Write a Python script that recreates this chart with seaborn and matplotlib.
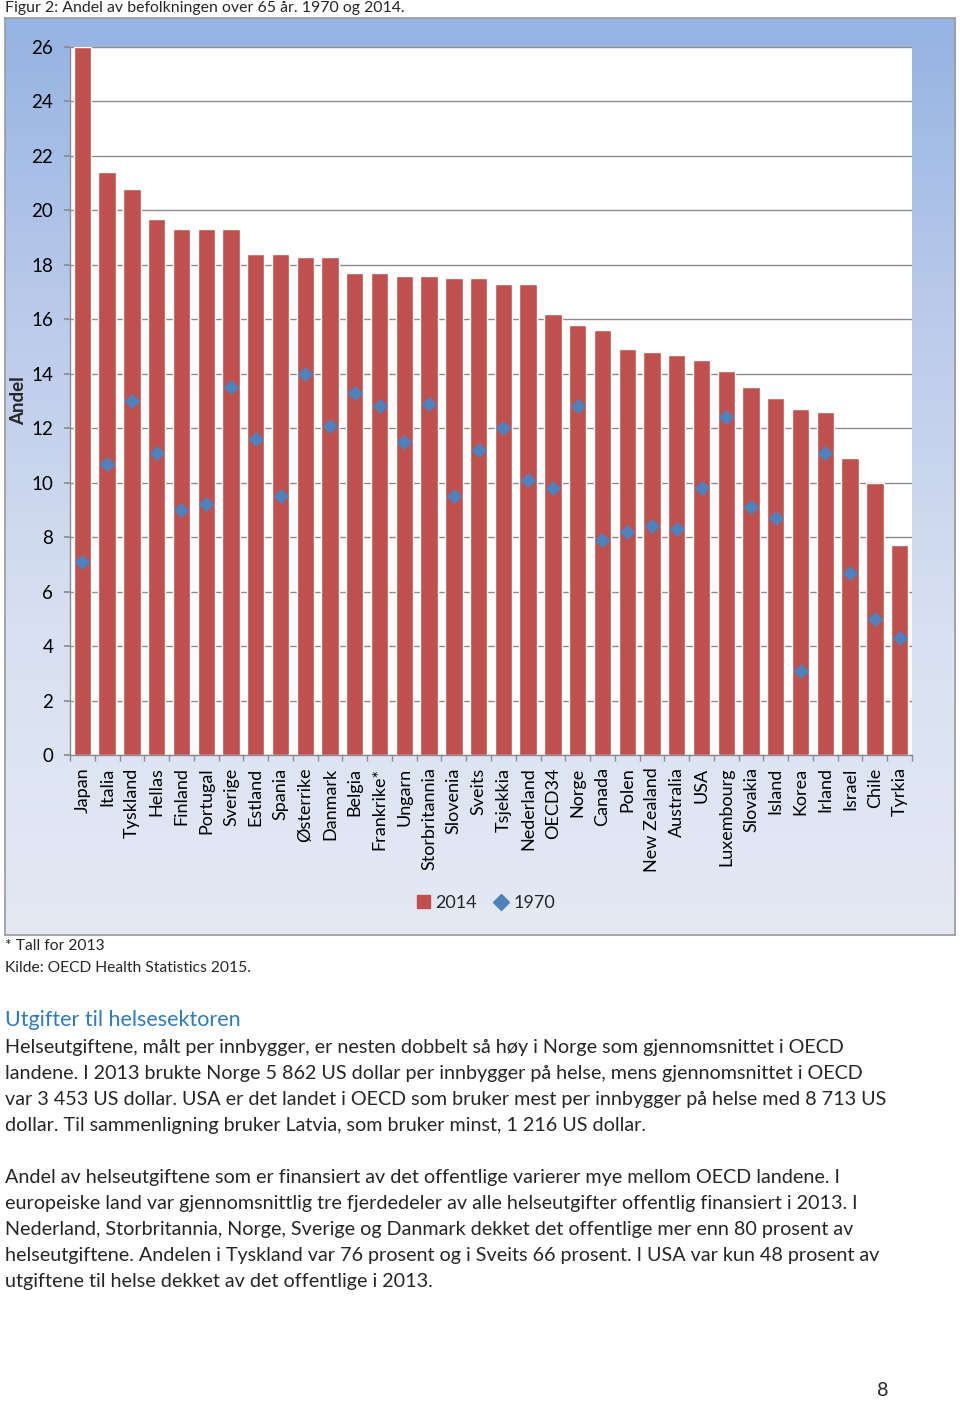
import numpy as np
import matplotlib
matplotlib.use("Agg")
import matplotlib.pyplot as plt
import seaborn as sns
from matplotlib.colors import LinearSegmentedColormap
from matplotlib.lines import Line2D
from matplotlib.patches import Patch

# data
countries = ["Japan", "Italia", "Tyskland", "Hellas", "Finland", "Portugal", "Sverige",
             "Estland", "Spania", "Østerrike", "Danmark", "Belgia", "Frankrike*", "Ungarn",
             "Storbritannia", "Slovenia", "Sveits", "Tsjekkia", "Nederland", "OECD34",
             "Norge", "Canada", "Polen", "New Zealand", "Australia", "USA", "Luxembourg",
             "Slovakia", "Island", "Korea", "Irland", "Israel", "Chile", "Tyrkia"]
share_2014 = [26.0, 21.4, 20.8, 19.7, 19.3, 19.3, 19.3, 18.4, 18.4, 18.3, 18.3, 17.7, 17.7,
              17.6, 17.6, 17.5, 17.5, 17.3, 17.3, 16.2, 15.8, 15.6, 14.9, 14.8, 14.7, 14.5,
              14.1, 13.5, 13.1, 12.7, 12.6, 10.9, 10.0, 7.7]
share_1970 = [7.1, 10.7, 13.0, 11.1, 9.0, 9.2, 13.5, 11.6, 9.5, 14.0, 12.1, 13.3, 12.8,
              11.5, 12.9, 9.5, 11.2, 12.0, 10.1, 9.8, 12.8, 7.9, 8.2, 8.4, 8.3, 9.8,
              12.4, 9.1, 8.7, 3.1, 11.1, 6.7, 5.0, 4.3]
yticks = list(range(0, 27, 2))

title_text = "Figur 2: Andel av befolkningen over 65 år. 1970 og 2014."
notes = ["* Tall for 2013", "Kilde: OECD Health Statistics 2015."]
heading = "Utgifter til helsesektoren"
para1 = ["Helseutgiftene, målt per innbygger, er nesten dobbelt så høy i Norge som gjennomsnittet i OECD",
         "landene. I 2013 brukte Norge 5 862 US dollar per innbygger på helse, mens gjennomsnittet i OECD",
         "var 3 453 US dollar. USA er det landet i OECD som bruker mest per innbygger på helse med 8 713 US",
         "dollar. Til sammenligning bruker Latvia, som bruker minst, 1 216 US dollar."]
para2 = ["Andel av helseutgiftene som er finansiert av det offentlige varierer mye mellom OECD landene. I",
         "europeiske land var gjennomsnittlig tre fjerdedeler av alle helseutgifter offentlig finansiert i 2013. I",
         "Nederland, Storbritannia, Norge, Sverige og Danmark dekket det offentlige mer enn 80 prosent av",
         "helseutgiftene. Andelen i Tyskland var 76 prosent og i Sveits 66 prosent. I USA var kun 48 prosent av",
         "utgiftene til helse dekket av det offentlige i 2013."]

sns.set_theme(style="white")
plt.rcParams['font.family'] = ['Lato', 'DejaVu Sans']

W, H = 960, 1401
fig = plt.figure(figsize=(W / 100, H / 100), dpi=100)


def box(x0, y0, x1, y1):
    # pixel box (top-left origin) -> figure fraction rect
    return [x0 / W, 1 - y1 / H, (x1 - x0) / W, (y1 - y0) / H]


def fy(y):
    return 1 - y / H


# gradient chart background
bg = fig.add_axes(box(5, 18, 955, 935))
grad = np.linspace(0, 1, 256).reshape(-1, 1)
cmap = LinearSegmentedColormap.from_list("bg", ["#95b3e3", "#bccbeb", "#d8e0f1", "#e4e9f4"])
bg.imshow(grad, aspect="auto", cmap=cmap, extent=[0, 1, 0, 1])
bg.set_xticks([])
bg.set_yticks([])
for s in bg.spines.values():
    s.set_color("#9a9a9a")
    s.set_linewidth(1.2)

# plot area
ax = fig.add_axes(box(70, 47, 912, 755))
ax.set_facecolor("white")
n = len(countries)
sns.barplot(x=countries, y=share_2014, color="#C0504D", saturation=1, width=0.7, ax=ax)
ax.scatter(np.arange(n), share_1970, marker="D", s=62, color="#4F81BD", zorder=3, linewidths=0)
ax.set_xlim(-0.5, n - 0.5)
ax.set_ylim(0, 26)
ax.set_yticks(yticks)
ax.yaxis.grid(True, color="#8c8c8c", lw=1)
ax.set_axisbelow(True)
for side in ["top", "right"]:
    ax.spines[side].set_visible(False)
for side in ["left", "bottom"]:
    ax.spines[side].set_color("#8c8c8c")
    ax.spines[side].set_linewidth(1)
ax.set_xticks(np.arange(n))
ax.set_xticklabels(countries, rotation=90, fontsize=13, color="black")
ax.set_xticks(np.arange(-0.5, n), minor=True)
ax.tick_params(axis="x", which="major", length=0, pad=9)
ax.tick_params(axis="x", which="minor", length=4, color="#8c8c8c", direction="out", bottom=True)
ax.tick_params(axis="y", length=4, color="#8c8c8c", direction="out", left=True, pad=8,
               labelsize=13.5, labelcolor="black")
ax.set_xlabel("")
ax.set_ylabel("")

fig.text(19 / W, fy(401), "Andel", rotation=90, fontsize=13.5, weight="bold",
         ha="center", va="center")

handles = [Patch(color="#C0504D"),
           Line2D([], [], marker="D", color="#4F81BD", linestyle="none", markersize=8)]
fig.legend(handles, ["2014", "1970"], loc="center", bbox_to_anchor=(486 / W, fy(903)),
           ncol=2, frameon=False, fontsize=13, handlelength=0.7, handleheight=0.7,
           handletextpad=0.3, columnspacing=1.0)

# page text, font size fitted to measured line widths
renderer = fig.canvas.get_renderer()


def fitted_size(s, width, **kw):
    t = fig.text(0, 0, s, fontsize=10, **kw)
    w = t.get_window_extent(renderer).width
    t.remove()
    return 10 * width / w


fs_title = fitted_size(title_text, 400)
fig.text(5 / W, fy(8), title_text, fontsize=fs_title, va="center")

fs_note = fitted_size(notes[1], 245)
for y, s in zip([946, 968], notes):
    fig.text(5 / W, fy(y), s, fontsize=fs_note, va="center")

fs_head = fitted_size(heading, 236)
fig.text(5 / W, fy(1020), heading, fontsize=fs_head, va="center", color="#2E7BC0")

fs_body = fitted_size(para1[0], 841)
for y, s in zip([1047, 1073, 1099, 1125], para1):
    fig.text(5 / W, fy(y), s, fontsize=fs_body, va="center")
for y, s in zip([1178, 1204, 1230, 1256, 1282], para2):
    fig.text(5 / W, fy(y), s, fontsize=fs_body, va="center")

fig.text(883 / W, fy(1391), "8", fontsize=fs_body, va="center", ha="center")

fig.savefig("out.png", dpi=100)
